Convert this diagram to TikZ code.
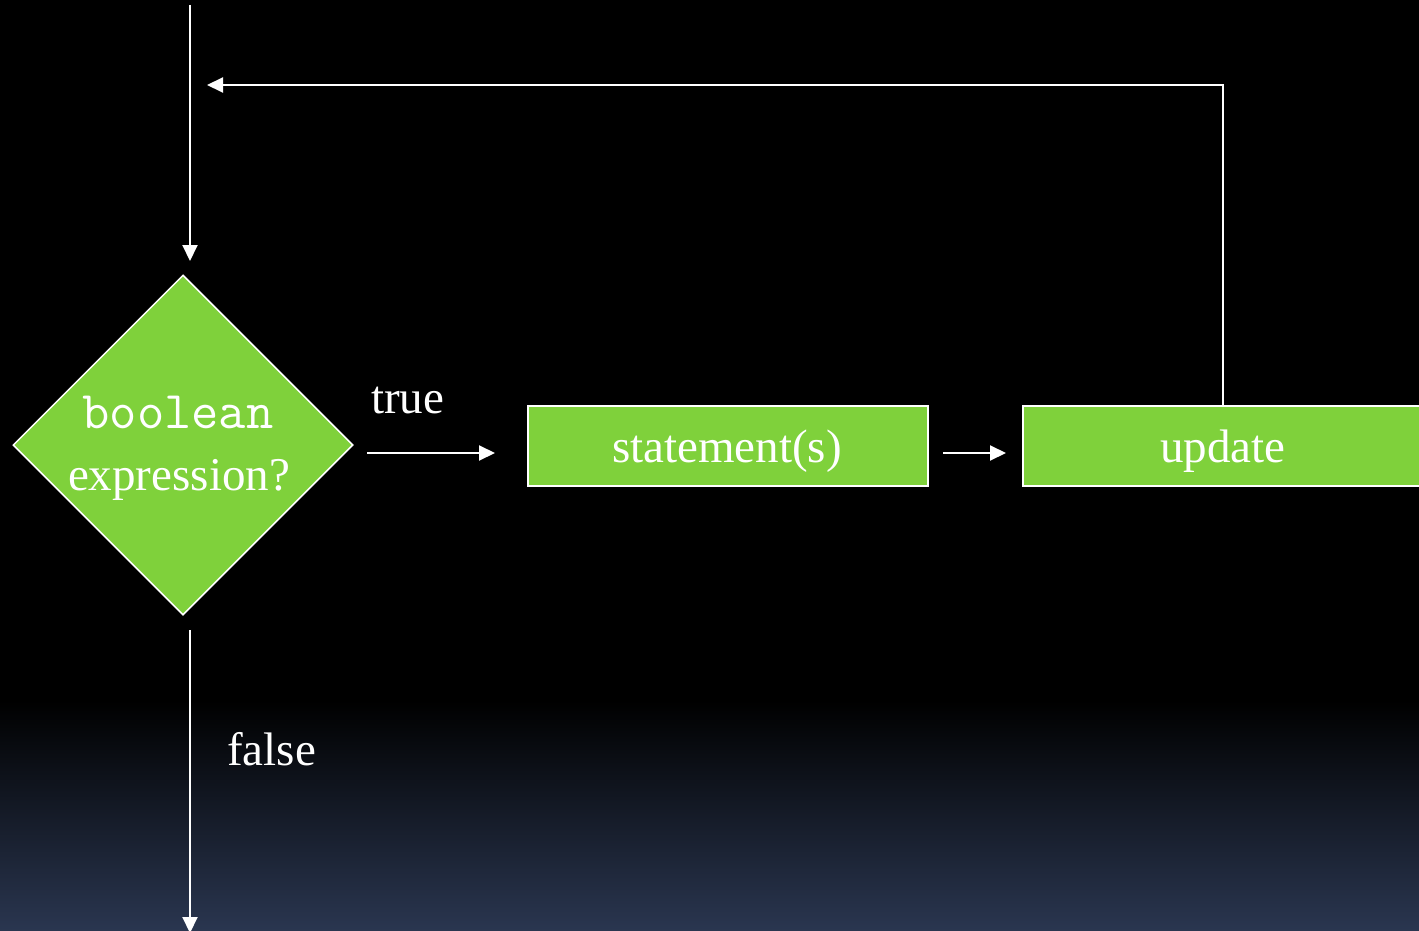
\documentclass[tikz,border=0pt]{standalone}
\usepackage{fontspec}
\setmainfont{Liberation Serif}
\usetikzlibrary{shapes.geometric,arrows.meta}
\definecolor{boxgreen}{HTML}{7FD13B}
\definecolor{bgbottom}{RGB}{42,54,80}
\tikzset{
  flow/.style={draw=white, line width=2pt, -{Triangle[length=16pt,width=15pt]}},
  stepbox/.style={rectangle, draw=white, line width=2pt, fill=boxgreen,
    minimum width=400pt, minimum height=80pt, inner sep=0pt, text=white,
    font=\fontsize{47}{62}\selectfont},
  decision/.style={diamond, draw=white, line width=1.5pt, fill=boxgreen,
    minimum width=340pt, minimum height=340pt, inner sep=0pt, aspect=1},
  lbl/.style={text=white, inner sep=0pt, font=\fontsize{47}{62}\selectfont},
  codelbl/.style={text=white, inner sep=0pt, font=\fontsize{53}{62}\selectfont\ttfamily}
}
\begin{document}
\begin{tikzpicture}[x=1pt,y=-1pt]
  \clip (0,0) rectangle (1419,931);
  \useasboundingbox (0,0) rectangle (1419,931);
  % background: black with a dark blue fade at the bottom
  \fill[black] (0,0) rectangle (1419,701);
  \shade[top color=black, bottom color=bgbottom] (0,700) rectangle (1419,931);

  % shapes
  \node[decision] (cond) at (183,445) {};
  \node[codelbl, anchor=base] (condtop) at (178,428) {boolean};
  \node[lbl, anchor=base] (condbot) at (179,490) {expression?};
  \node[stepbox, anchor=north west] (stmt) at (527,405) {};
  \node[lbl, anchor=base] (stmttext) at (727,462) {statement(s)};
  \node[stepbox, anchor=north west] (upd) at (1022,405) {};
  \node[lbl, anchor=base] (updtext) at (1223,462) {update};

  % labels on the branches
  \node[lbl, anchor=base west] (truelbl) at (371,413) {true};
  \node[lbl, anchor=base west] (falselbl) at (227,765) {false};

  % connector end points
  \coordinate (entry) at (190,5);
  \coordinate (condin) at (190,261);
  \coordinate (condout) at (190,630);
  \coordinate (exit) at (190,933);
  \coordinate (truefrom) at (367,453);
  \coordinate (trueto) at (495,453);
  \coordinate (stmtout) at (943,453);
  \coordinate (updin) at (1006,453);
  \coordinate (loopend) at (207,85);

  % connectors
  \draw[flow] (entry) -- (condin);
  \draw[flow] (condout) -- (exit);
  \draw[flow] (truefrom) -- (trueto);
  \draw[flow] (stmtout) -- (updin);
  \draw[flow] (upd.north) |- (loopend);
\end{tikzpicture}
\end{document}
